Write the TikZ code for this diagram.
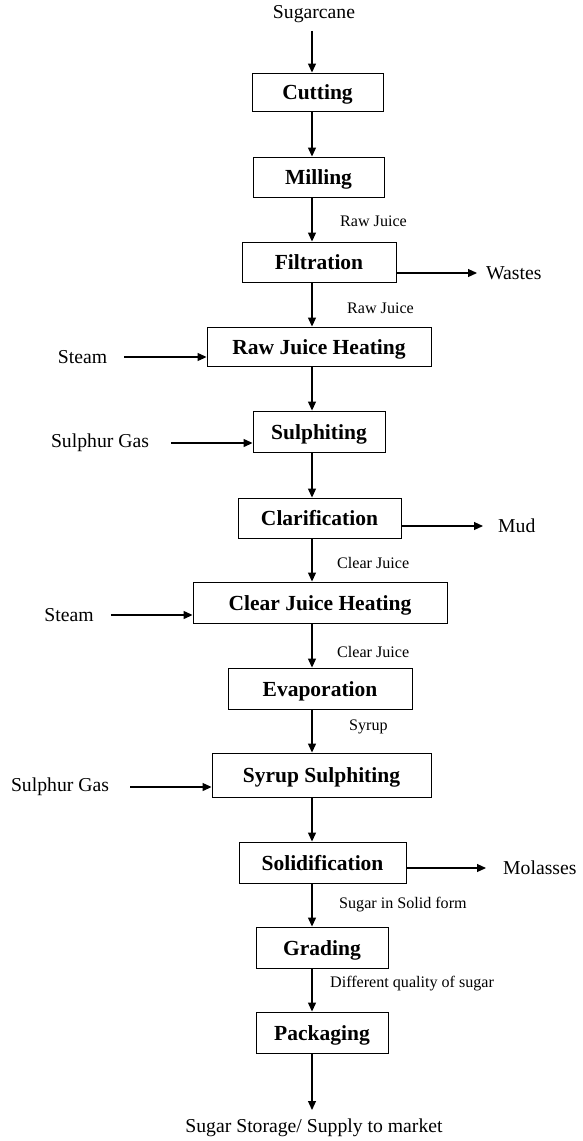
\documentclass[tikz,border=0pt]{standalone}
\usepackage{fontspec}
\setmainfont{Liberation Serif}
\usetikzlibrary{arrows.meta}
\begin{document}
\begin{tikzpicture}[x=1pt,y=-1pt,
  stage/.style={draw, line width=0.9pt, inner sep=0pt, align=center,
    text height=16pt, text depth=1pt,
    font=\fontsize{21.5}{24}\selectfont\bfseries},
  flow/.style={line width=1.2pt, -{Triangle[length=9pt,width=8pt]}},
  big/.style={inner sep=0pt, font=\fontsize{19.7}{22}\selectfont},
  small/.style={inner sep=0pt, anchor=west, font=\fontsize{16.1}{18}\selectfont}]
\useasboundingbox (0,0) rectangle (583,1141);

% main process stages
\node[stage, minimum width=131pt, minimum height=38pt] (cut)  at (317.5,92)   {Cutting};
\node[stage, minimum width=131pt, minimum height=40pt] (mill) at (318.5,177)  {Milling};
\node[stage, minimum width=154pt, minimum height=40pt] (filt) at (319,262)    {Filtration};
\node[stage, minimum width=224pt, minimum height=39pt] (rjh)  at (319,346.5)  {Raw Juice Heating};
\node[stage, minimum width=132pt, minimum height=41pt] (sulf) at (319,431.5)  {Sulphiting};
\node[stage, minimum width=163pt, minimum height=40pt] (clar) at (319.5,518)  {Clarification};
\node[stage, minimum width=254pt, minimum height=41pt] (cjh)  at (320,602.5)  {Clear Juice Heating};
\node[stage, minimum width=184pt, minimum height=41pt] (evap) at (320,688.5)  {Evaporation};
\node[stage, minimum width=219pt, minimum height=44pt] (ssul) at (321.5,775)  {Syrup Sulphiting};
\node[stage, minimum width=167pt, minimum height=41pt] (soli) at (322.5,862.5){Solidification};
\node[stage, minimum width=132pt, minimum height=41pt] (grad) at (322,947.5)  {Grading};
\node[stage, minimum width=132pt, minimum height=41pt] (pack) at (322,1032.5) {Packaging};

% raw material and final product
\node[big] (cane)  at (314,14)   {Sugarcane};
\node[big] (store) at (314,1128) {Sugar Storage/ Supply to market};

% vertical line of the main flow
\coordinate (spine) at (312,0);

\draw[flow] (cane.south -| spine) ++(0,8) -- (cut.north -| spine);
\draw[flow] (cut.south -| spine)  -- (mill.north -| spine);
\draw[flow] (mill.south -| spine) -- (filt.north -| spine);
\draw[flow] (filt.south -| spine) -- (rjh.north -| spine);
\draw[flow] (rjh.south -| spine)  -- (sulf.north -| spine);
\draw[flow] (sulf.south -| spine) -- (clar.north -| spine);
\draw[flow] (clar.south -| spine) -- (cjh.north -| spine);
\draw[flow] (cjh.south -| spine)  -- (evap.north -| spine);
\draw[flow] (evap.south -| spine) -- (ssul.north -| spine);
\draw[flow] (ssul.south -| spine) -- (soli.north -| spine);
\draw[flow] (soli.south -| spine) -- (grad.north -| spine);
\draw[flow] (grad.south -| spine) -- (pack.north -| spine);
\coordinate (endtip) at (312,1110);
\draw[flow] (pack.south -| spine) -- (endtip);

% stream labels beside the main flow
\node[small] (rj1) at (340,221) {Raw Juice};
\node[small] (rj2) at (347,308) {Raw Juice};
\node[small] (cj1) at (337,563) {Clear Juice};
\node[small] (cj2) at (337,652) {Clear Juice};
\node[small] (syr) at (349,727) {Syrup};
\node[small] (sol) at (339,905) {Sugar in Solid form};
\node[small] (dif) at (330,984) {Different quality of sugar};

% side inputs
\node[big] (steamA) at (82.5,357) {Steam};
\node[big] (sgasA)  at (100,443)  {Sulphur Gas};
\node[big] (steamB) at (69,615)   {Steam};
\node[big] (sgasB)  at (60,787)   {Sulphur Gas};

\draw[flow] ([xshift=17pt]steamA.east) -- (steamA.east -| rjh.west);
\draw[flow] ([xshift=22pt]sgasA.east)  -- (sgasA.east -| sulf.west);
\draw[flow] ([xshift=17pt]steamB.east) -- (steamB.east -| cjh.west);
\draw[flow] ([xshift=21pt]sgasB.east)  -- (sgasB.east -| ssul.west);

% side outputs
\node[big, anchor=west] (waste) at (486,273) {Wastes};
\node[big, anchor=west] (mud)   at (498,526) {Mud};
\node[big, anchor=west] (mol)   at (503,868) {Molasses};

\draw[flow, shorten >=9pt]  (filt.east |- waste.west) -- (waste.west);
\draw[flow, shorten >=15pt] (clar.east |- mud.west)   -- (mud.west);
\draw[flow, shorten >=17pt] (soli.east |- mol.west)   -- (mol.west);
\end{tikzpicture}
\end{document}
